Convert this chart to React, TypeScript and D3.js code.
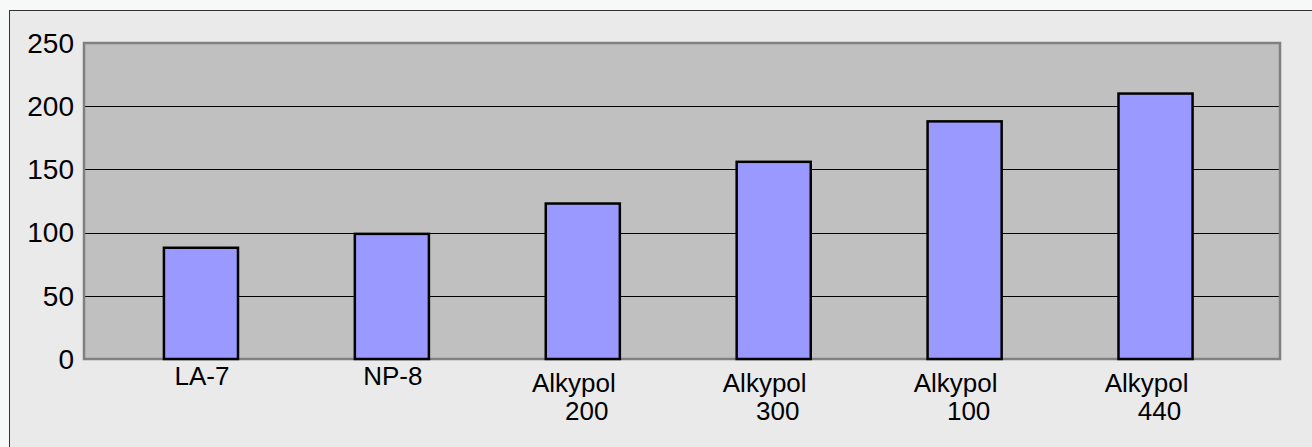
import { useEffect, useRef } from 'react';
import * as d3 from 'd3';

const categories = ['LA-7', 'NP-8', 'Alkypol 200', 'Alkypol 300', 'Alkypol 100', 'Alkypol 440'];
const labelLines = [['LA-7'], ['NP-8'], ['Alkypol', '200'], ['Alkypol', '300'], ['Alkypol', '100'], ['Alkypol', '440']];
const values = [88, 99, 123, 156, 188, 210];
const yTicks = [0, 50, 100, 150, 200, 250];

export default function App() {
  const svgRef = useRef<SVGSVGElement>(null);

  useEffect(() => {
    if (!svgRef.current) return;
    const width = 1312;
    const height = 447;
    const plot = { left: 84, right: 1280, top: 43, bottom: 359 };
    const font = '"Liberation Sans", Arial, sans-serif';

    const svg = d3.select(svgRef.current);
    svg.selectAll('*').remove();
    svg.attr('width', width).attr('height', height);

    // page + chart frame
    svg.append('rect').attr('width', width).attr('height', height).attr('fill', '#f7f8f8');
    svg.append('rect')
      .attr('x', 9.5).attr('y', 10.5)
      .attr('width', width + 20).attr('height', height + 20)
      .attr('fill', '#eaeaea')
      .attr('stroke', '#333').attr('stroke-width', 1);

    const x = d3.scaleBand<string>()
      .domain(categories)
      .range([105.5, 1251])
      .paddingInner(0.612)
      .paddingOuter(0.306);

    const y = d3.scaleLinear()
      .domain([0, 250])
      .range([plot.bottom, plot.top]);

    // plot background
    svg.append('rect')
      .attr('x', plot.left).attr('y', plot.top)
      .attr('width', plot.right - plot.left).attr('height', plot.bottom - plot.top)
      .attr('fill', '#c0c0c0');

    // gridlines
    svg.append('g')
      .selectAll('line')
      .data(yTicks.filter(t => t > 0 && t < 250))
      .join('line')
      .attr('x1', plot.left).attr('x2', plot.right)
      .attr('y1', d => Math.round(y(d)) + 0.5).attr('y2', d => Math.round(y(d)) + 0.5)
      .attr('stroke', '#000').attr('stroke-width', 1);

    // plot border
    svg.append('rect')
      .attr('x', plot.left).attr('y', plot.top)
      .attr('width', plot.right - plot.left).attr('height', plot.bottom - plot.top)
      .attr('fill', 'none')
      .attr('stroke', '#808080').attr('stroke-width', 2.5);

    // bars
    svg.append('g')
      .selectAll('rect')
      .data(values)
      .join('rect')
      .attr('x', (d, i) => x(categories[i])!)
      .attr('y', d => y(d))
      .attr('width', x.bandwidth())
      .attr('height', d => y(0) - y(d))
      .attr('fill', '#9999ff')
      .attr('stroke', '#000').attr('stroke-width', 2.5);

    // y tick labels
    svg.append('g')
      .selectAll('text')
      .data(yTicks)
      .join('text')
      .attr('x', 74)
      .attr('y', d => y(d))
      .attr('dy', '0.35em')
      .attr('text-anchor', 'end')
      .style('font-family', font)
      .style('font-size', '28px')
      .attr('fill', '#000')
      .text(d => d);

    // category labels
    categories.forEach((c, i) => {
      const cx = x(c)! + x.bandwidth() / 2;
      const lines = labelLines[i];
      const multi = lines.length > 1;
      const t = svg.append('text')
        .attr('text-anchor', 'middle')
        .style('font-family', font)
        .style('font-size', '26px')
        .attr('fill', '#000');
      lines.forEach((ln, j) => {
        t.append('tspan')
          .attr('x', cx + (multi ? (j === 0 ? -9 : 4) : 1))
          .attr('y', plot.bottom + (multi ? 33 : 26) + j * 28)
          .text(ln);
      });
    });
  }, []);

  return (
    <div style={{ position: 'absolute', left: 0, top: 0, width: 1312, height: 447, overflow: 'hidden' }}>
      <svg ref={svgRef} style={{ display: 'block' }}></svg>
    </div>
  );
}
